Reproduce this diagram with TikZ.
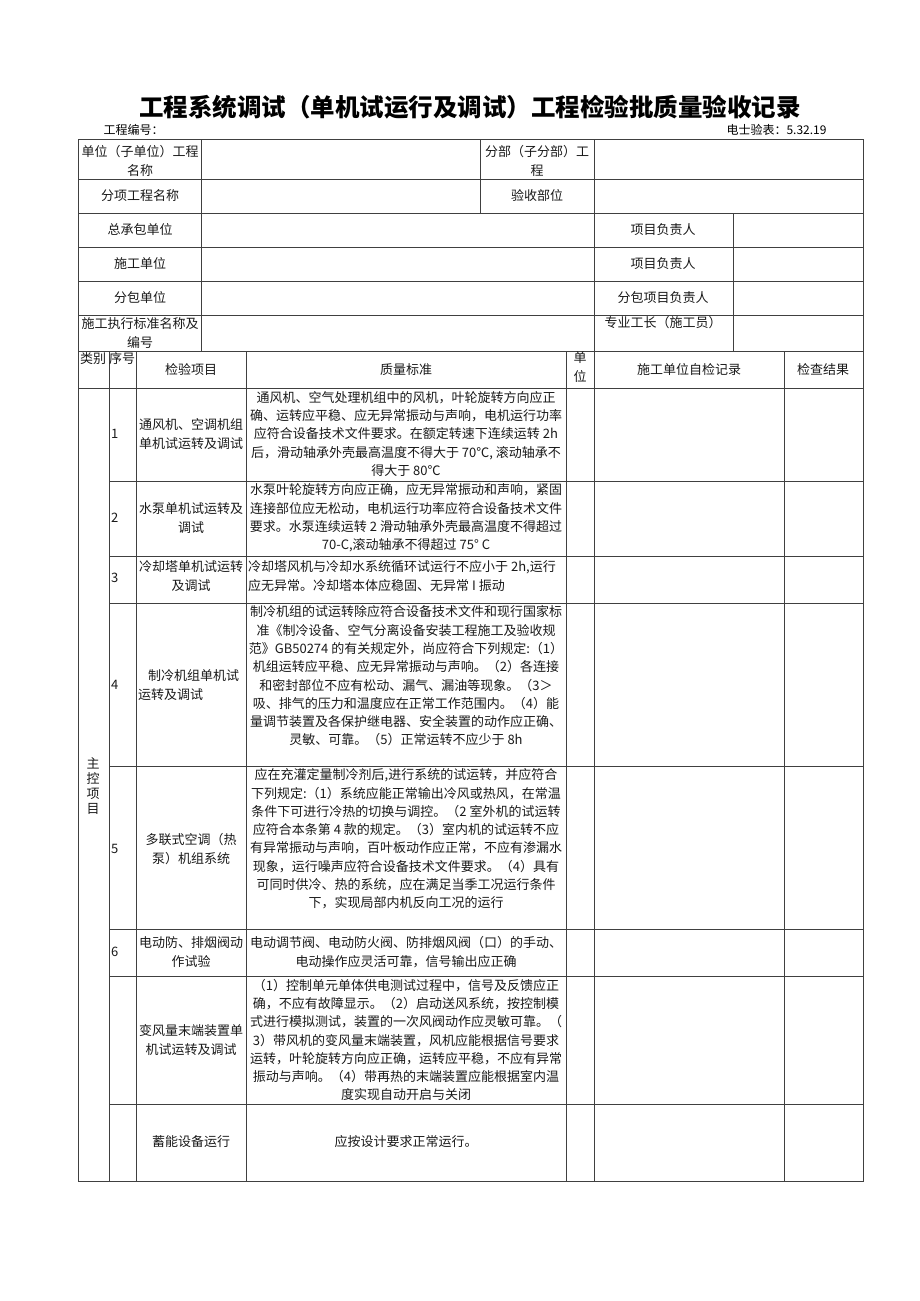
\documentclass[tikz,border=0pt]{standalone}
\usepackage{fontspec}
\setmainfont{Noto Sans CJK SC}
\tikzset{
  rule/.style={draw=black!75,line width=0.9pt},
  txt/.style={font=\fontsize{13}{18.3}\selectfont,align=center,inner sep=0pt,text=black!90},
}
\begin{document}
\begin{tikzpicture}[x=1pt,y=-1pt]
    \useasboundingbox (0,0) rectangle (920,1301);
    % heading
    \node (title) at (470,107) {\fontsize{24.5}{26}\selectfont\bfseries 工程系统调试（单机试运行及调试）工程检验批质量验收记录};
    \node (code) [anchor=west,font=\fontsize{12}{14}\selectfont] at (100,130) {工程编号：};
    \node (form) [anchor=east,font=\fontsize{12}{14}\selectfont] at (830,130) {电士验表：5.32.19};
    % grid
    \begin{scope}[every path/.style={rule}]
      \draw (78,139) rectangle (863,1181);
      \foreach \y in {179,213,247,281,315,351,388}
        \draw (78,\y) -- (863,\y);
      \foreach \y in {481,556,603,766,929,976,1104}
        \draw (109,\y) -- (863,\y);
      \draw (201,139) -- (201,351);
      \draw (480,139) -- (480,213);
      \draw (594,139) -- (594,1181);
      \draw (733,213) -- (733,351);
      \foreach \x in {109,136,246,566,784}
        \draw (\x,351) -- (\x,1181);
    \end{scope}
    \begin{scope}[every node/.style={txt}]
      % upper part
      \node (unit) at (140,161) {单位（子单位）工程\\名称};
      \node (part) at (537,161) {分部（子分部）工\\程};
      \node (sub) at (140,196) {分项工程名称};
      \node (site) at (537,196) {验收部位};
      \node (gen) at (140,230) {总承包单位};
      \node (genmgr) at (663,230) {项目负责人};
      \node (cons) at (140,264) {施工单位};
      \node (consmgr) at (663,264) {项目负责人};
      \node (subc) at (140,298) {分包单位};
      \node (subcmgr) at (663,298) {分包项目负责人};
      \node (std) at (140,333) {施工执行标准名称及\\编号};
      \node (fore) at (663,323) {专业工长（施工员）};
      % column heads
      \node (hcat) at (93,359) {类别};
      \node (hno) at (122,359) {序号};
      \node (hitem) at (191,370) {检验项目};
      \node (hstd) at (406,370) {质量标准};
      \node (hunit) at (580,367) {单\\位};
      \node (hself) at (689,370) {施工单位自检记录};
      \node (hres) at (823,370) {检查结果};
      \node (cat) [font=\fontsize{13}{15}\selectfont] at (93,786) {主\\控\\项\\目};
      % numbers
      \node (n1) [anchor=west] at (111,434) {1};
      \node (n2) [anchor=west] at (111,518) {2};
      \node (n3) [anchor=west] at (111,578) {3};
      \node (n4) [anchor=west] at (111,685) {4};
      \node (n5) [anchor=west] at (111,849) {5};
      \node (n6) [anchor=west] at (111,952) {6};
      % items
      \node (i1) at (191,434) {通风机、空调机组\\单机试运转及调试};
      \node (i2) at (191,518) {水泵单机试运转及\\调试};
      \node (i3) at (191,576) {冷却塔单机试运转\\及调试};
      \node (i4) [anchor=west,align=left] at (138,685) {\hspace{10pt}制冷机组单机试\\运转及调试};
      \node (i5) at (191,849) {多联式空调（热\\泵）机组系统};
      \node (i6) at (191,952) {电动防、排烟阀动\\作试验};
      \node (i7) at (191,1040) {变风量末端装置单\\机试运转及调试};
      \node (i8) at (191,1142) {蓄能设备运行};
      % standards
      \node (s1) at (406,434) {通风机、空气处理机组中的风机，叶轮旋转方向应正\\确、运转应平稳、应无异常振动与声响，电机运行功率\\应符合设备技术文件要求。在额定转速下连续运转 2h\\后，滑动轴承外壳最高温度不得大于 70℃, 滚动轴承不\\得大于 80℃};
      \node (s2) at (406,518) {水泵叶轮旋转方向应正确，应无异常振动和声响，紧固\\连接部位应无松动，电机运行功率应符合设备技术文件\\要求。水泵连续运转 2 滑动轴承外壳最高温度不得超过\\70-C,滚动轴承不得超过 75° C};
      \node (s3) [anchor=west,align=left] at (248,576) {冷却塔风机与冷却水系统循环试运行不应小于 2h,运行\\应无异常。冷却塔本体应稳固、无异常 I 振动};
      \node (s4) at (406,676) {制冷机组的试运转除应符合设备技术文件和现行国家标\\准《制冷设备、空气分离设备安装工程施工及验收规\\范》GB50274 的有关规定外，尚应符合下列规定:（1）\\机组运转应平稳、应无异常振动与声响。（2）各连接\\和密封部位不应有松动、漏气、漏油等现象。（3＞\\吸、排气的压力和温度应在正常工作范围内。（4）能\\量调节装置及各保护继电器、安全装置的动作应正确、\\灵敏、可靠。（5）正常运转不应少于 8h};
      \node (s5) at (406,839) {应在充灌定量制冷剂后,进行系统的试运转，并应符合\\下列规定:（1）系统应能正常输出冷风或热风，在常温\\条件下可进行冷热的切换与调控。（2 室外机的试运转\\应符合本条第 4 款的规定。（3）室内机的试运转不应\\有异常振动与声响，百叶板动作应正常，不应有渗漏水\\现象，运行噪声应符合设备技术文件要求。（4）具有\\可同时供冷、热的系统，应在满足当季工况运行条件\\下，实现局部内机反向工况的运行};
      \node (s6) at (406,952) {电动调节阀、电动防火阀、防排烟风阀（口）的手动、\\电动操作应灵活可靠，信号输出应正确};
      \node (s7) at (406,1040) {（1）控制单元单体供电测试过程中，信号及反馈应正\\确，不应有故障显示。（2）启动送风系统，按控制模\\式进行模拟测试，装置的一次风阀动作应灵敏可靠。（\\3）带风机的变风量末端装置，风机应能根据信号要求\\运转，叶轮旋转方向应正确，运转应平稳，不应有异常\\振动与声响。（4）带再热的末端装置应能根据室内温\\度实现自动开启与关闭};
      \node (s8) at (406,1142) {应按设计要求正常运行。};
    \end{scope}
\end{tikzpicture}
\end{document}
